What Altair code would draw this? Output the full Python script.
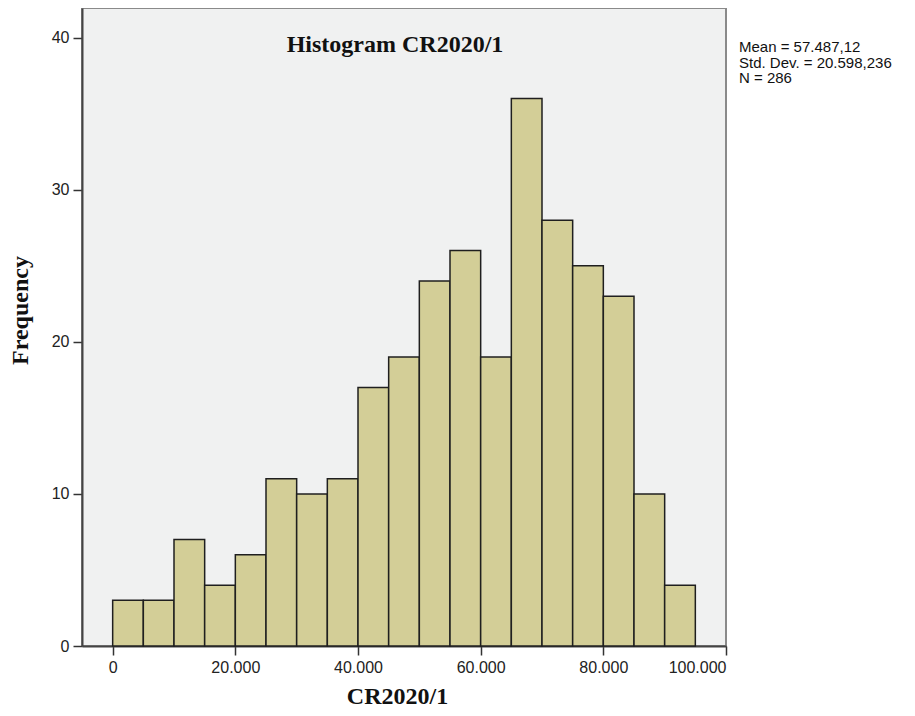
import altair as alt
import pandas as pd

bin_start = [0, 5000, 10000, 15000, 20000, 25000, 30000, 35000, 40000, 45000,
             50000, 55000, 60000, 65000, 70000, 75000, 80000, 85000, 90000]
bin_width = 5000
counts = [3, 3, 7, 4, 6, 11, 10, 11, 17, 19, 24, 26, 19, 36, 28, 25, 23, 10, 4]
x_ticks = [0, 20000, 40000, 60000, 80000, 100000]
y_ticks = [0, 10, 20, 30, 40]
chart_title = "Histogram CR2020/1"
x_title = "CR2020/1"
y_title = "Frequency"
stats_lines = ["Mean = 57.487,12", "Std. Dev. = 20.598,236", "N = 286"]

df = pd.DataFrame({
    "start": bin_start,
    "end": [s + bin_width for s in bin_start],
    "count": counts,
})

W, H = 644, 638

xscale = alt.Scale(domain=[-5000, 100000], nice=False, zero=False)
yscale = alt.Scale(domain=[0, 41.95], nice=False)

bars = alt.Chart(df).mark_bar(
    fill="#D3CE97", stroke="#1f1f1f", strokeWidth=1.5
).encode(
    x=alt.X("start:Q", scale=xscale, axis=alt.Axis(
        values=x_ticks, title=x_title,
        labelExpr="datum.value == 0 ? '0' : replace(format(datum.value / 1000, ',.0f'), ',', '.') + '.000'",
        titleX=315, titleY=57, titleBaseline="alphabetic",
    )),
    x2="end:Q",
    y=alt.Y("count:Q", scale=yscale, axis=alt.Axis(
        values=y_ticks, title=y_title,
        titleX=-62, titleY=302, titleAngle=-90, titleBaseline="middle",
    )),
    y2=alt.datum(0),
)

title_df = pd.DataFrame({"t": [chart_title]})
title_mark = alt.Chart(title_df).mark_text(
    font="Liberation Serif", fontWeight="bold", fontSize=24, color="#111",
    align="center", baseline="alphabetic",
).encode(x=alt.value(313), y=alt.value(44), text="t:N")

stats_df = pd.DataFrame({"t": ["\n".join(stats_lines)]})
stats_mark = alt.Chart(stats_df).mark_text(
    font="Liberation Sans", fontSize=15, color="#111", align="left",
    baseline="alphabetic", lineBreak="\n", lineHeight=15.5,
).encode(x=alt.value(657), y=alt.value(44), text="t:N")

chart = alt.layer(bars, title_mark, stats_mark).properties(
    width=W, height=H,
    autosize=alt.AutoSizeParams(type="none"),
    padding={"left": 74, "top": 0, "right": 180, "bottom": 62},
).configure_view(
    fill="#F0F1F1", stroke="#8a8a8a", strokeWidth=2,
).configure_axis(
    grid=False,
    domainColor="#444", domainWidth=2,
    tickColor="#333", tickWidth=1.5, tickSize=9,
    labelFont="Liberation Sans", labelFontSize=16, labelColor="#222",
    labelPadding=4,
    titleFont="Liberation Serif", titleFontWeight="bold", titleFontSize=24,
    titleColor="#111",
)

chart.save("out.html", embed_options={"renderer": "svg", "actions": False})
